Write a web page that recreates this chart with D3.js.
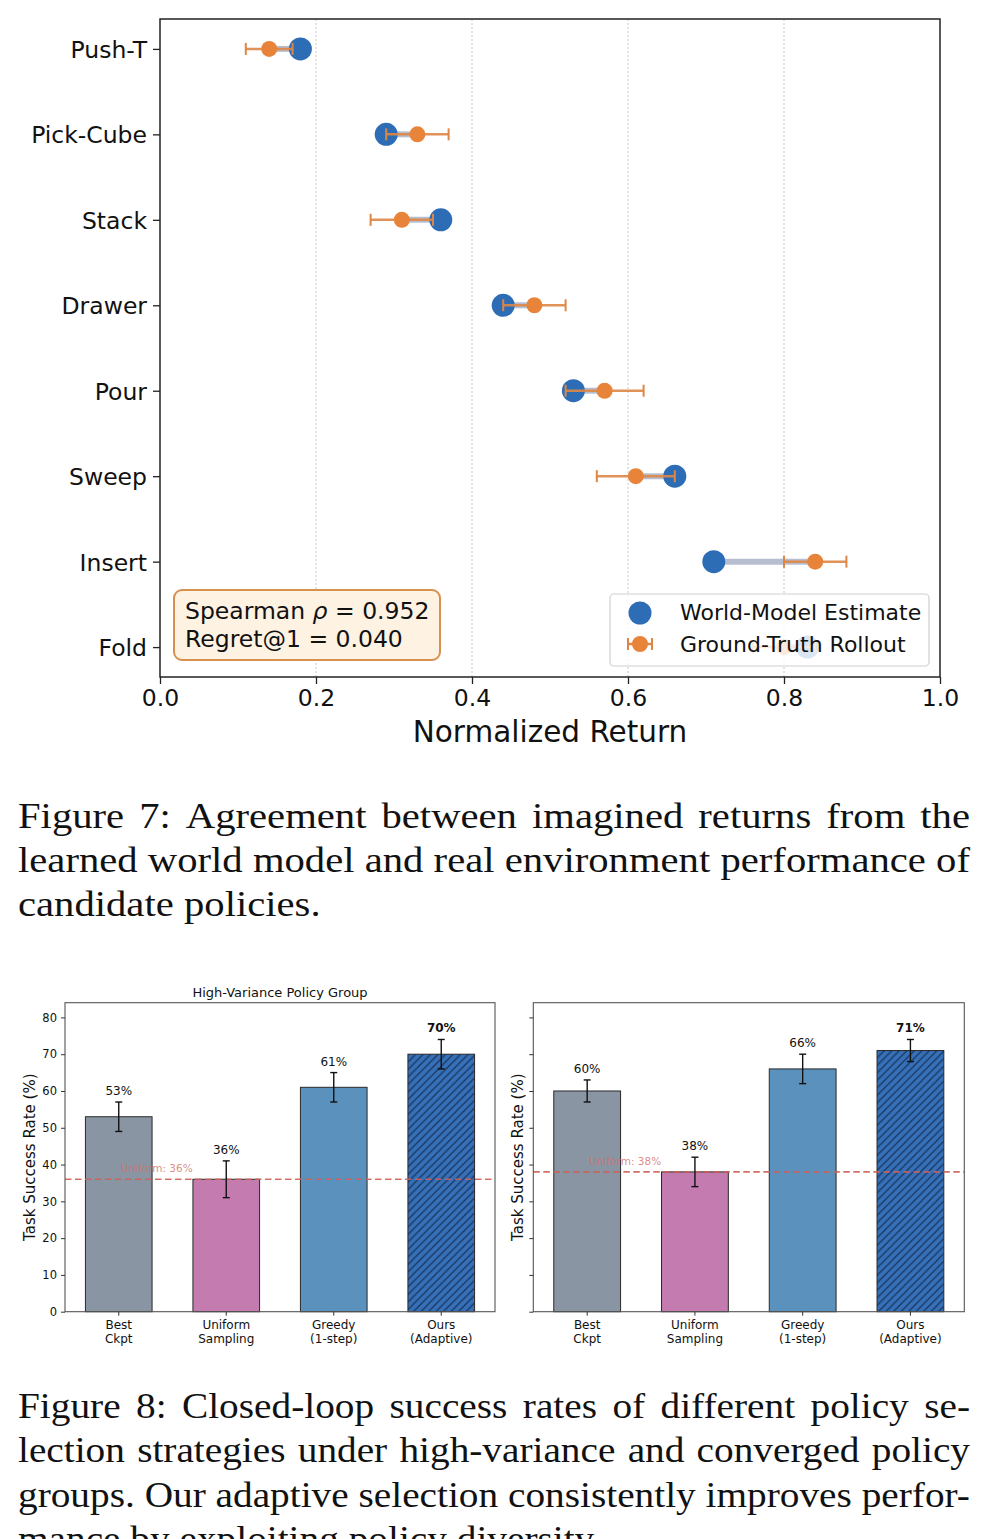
<!DOCTYPE html>
<html lang="en">
<head>
<meta charset="UTF-8">
<title>Figure 7 and 8</title>
<script src="https://cdn.jsdelivr.net/npm/d3@7"></script>
<style>
  body { margin: 0; background: #fff; }
  svg { display: block; }
</style>
</head>
<body>
<div id="chart"></div>
<script>
// ---- Figure 7 data ----
const tasks      = ["Push-T", "Pick-Cube", "Stack", "Drawer", "Pour", "Sweep", "Insert", "Fold"];
const wmEstimate = [0.18, 0.29, 0.36, 0.44, 0.53, 0.66, 0.71, 0.83];
const gtRollout  = [0.14, 0.33, 0.31, 0.48, 0.57, 0.61, 0.84, 0.80];
const gtError    = [0.03, 0.04, 0.04, 0.04, 0.05, 0.05, 0.04, 0.04];
const returnTicks = [0.0, 0.2, 0.4, 0.6, 0.8, 1.0];
const statLines = ["Spearman", "Regret@1 = 0.040"];

// ---- Figure 8 data ----
const strategies   = ["Best Ckpt", "Uniform Sampling", "Greedy (1-step)", "Ours (Adaptive)"];
const strategyRows = [["Best", "Ckpt"], ["Uniform", "Sampling"], ["Greedy", "(1-step)"], ["Ours", "(Adaptive)"]];
const hvRates = [53, 36, 61, 70];
const hvErr   = [4, 5, 4, 4];
const cvRates = [60, 38, 66, 71];
const cvErr   = [3, 4, 4, 3];
const rateTicks = [0, 10, 20, 30, 40, 50, 60, 70, 80];
const barColors = ["#8995a3", "#c47bb0", "#5b91bd", "#3570b8"];

// ---- captions ----
const caption7 = [
  "Figure 7: Agreement between imagined returns from the",
  "learned world model and real environment performance of",
  "candidate policies."
];
const caption8 = [
  "Figure 8: Closed-loop success rates of different policy se-",
  "lection strategies under high-variance and converged policy",
  "groups. Our adaptive selection consistently improves perfor-",
  "mance by exploiting policy diversity."
];

const W = 987, H = 1539;
const sans = "DejaVu Sans, sans-serif";

const svg = d3.select("#chart").append("svg")
    .attr("width", W).attr("height", H)
    .attr("viewBox", `0 0 ${W} ${H}`);

// ================= Figure 7: dumbbell =================
const m7 = { left: 160, right: 940, top: 19, bottom: 677 };
const x = d3.scaleLinear().domain([0, 1]).range([m7.left, m7.right]);
const y = d3.scalePoint().domain(tasks).range([m7.top, m7.bottom]).padding(0.35);

const g7 = svg.append("g");

// grid
g7.append("g").selectAll("line")
  .data(returnTicks.slice(1, -1))
  .join("line")
    .attr("x1", d => x(d)).attr("x2", d => x(d))
    .attr("y1", m7.top).attr("y2", m7.bottom)
    .attr("stroke", "#c8c8c8").attr("stroke-width", 1)
    .attr("stroke-dasharray", "2,2");

const rows = tasks.map((t, i) => ({ t, wm: wmEstimate[i], gt: gtRollout[i], e: gtError[i] }));

// connectors
g7.append("g").selectAll("line")
  .data(rows)
  .join("line")
    .attr("x1", d => x(d.wm)).attr("x2", d => x(d.gt))
    .attr("y1", d => y(d.t)).attr("y2", d => y(d.t))
    .attr("stroke", "#a9b3c7").attr("stroke-width", 6)
    .attr("stroke-opacity", 0.85);

// world-model markers
g7.append("g").selectAll("circle")
  .data(rows)
  .join("circle")
    .attr("cx", d => x(d.wm)).attr("cy", d => y(d.t))
    .attr("r", 11.5).attr("fill", "#2d6db5");

// ground truth with error bars
const gt = g7.append("g").selectAll("g")
  .data(rows)
  .join("g")
    .attr("transform", d => `translate(0,${y(d.t)})`);
gt.append("line")
    .attr("x1", d => x(d.gt - d.e)).attr("x2", d => x(d.gt + d.e))
    .attr("stroke", "#de8645").attr("stroke-width", 2.5).attr("stroke-opacity", 0.9);
gt.selectAll(".cap")
  .data(d => [d.gt - d.e, d.gt + d.e])
  .join("line")
    .attr("class", "cap")
    .attr("x1", d => x(d)).attr("x2", d => x(d))
    .attr("y1", -6).attr("y2", 6)
    .attr("stroke", "#de8645").attr("stroke-width", 2);
gt.append("circle")
    .attr("cx", d => x(d.gt)).attr("r", 8).attr("fill", "#e8833a");

// frame
g7.append("rect")
    .attr("x", m7.left).attr("y", m7.top)
    .attr("width", m7.right - m7.left).attr("height", m7.bottom - m7.top)
    .attr("fill", "none").attr("stroke", "#222").attr("stroke-width", 1.5);

// axes
const yAx = g7.append("g")
    .attr("transform", `translate(${m7.left},0)`)
    .call(d3.axisLeft(y).tickSize(7).tickPadding(6));
const xAx = g7.append("g")
    .attr("transform", `translate(0,${m7.bottom})`)
    .call(d3.axisBottom(x).tickValues(returnTicks).tickFormat(d3.format(".1f")).tickSize(7).tickPadding(5));
[yAx, xAx].forEach(a => {
  a.select(".domain").remove();
  a.selectAll(".tick line").attr("stroke", "#222").attr("stroke-width", 1.3);
  a.selectAll("text").attr("font-family", sans).attr("font-size", 23.5).attr("fill", "#111");
});
yAx.selectAll("text").attr("dy", "0.36em");

g7.append("text")
    .attr("x", (m7.left + m7.right) / 2).attr("y", 742)
    .attr("text-anchor", "middle")
    .attr("font-family", sans).attr("font-size", 29.5).attr("fill", "#111")
    .text("Normalized Return");

// stats box
g7.append("rect")
    .attr("x", 174).attr("y", 590).attr("width", 266).attr("height", 70)
    .attr("rx", 8)
    .attr("fill", "#fef2e2").attr("stroke", "#d6914f").attr("stroke-width", 2);
const st1 = g7.append("text")
    .attr("x", 185).attr("y", 619)
    .attr("font-family", sans).attr("font-size", 23.5).attr("fill", "#111");
st1.append("tspan").text(statLines[0] + " ");
st1.append("tspan").attr("font-style", "italic").text("ρ");
st1.append("tspan").text(" = 0.952");
g7.append("text")
    .attr("x", 185).attr("y", 647)
    .attr("font-family", sans).attr("font-size", 23.5).attr("fill", "#111")
    .text(statLines[1]);

// legend
const lg = g7.append("g");
lg.append("rect")
    .attr("x", 610).attr("y", 594).attr("width", 319).attr("height", 72)
    .attr("rx", 4)
    .attr("fill", "#fff").attr("fill-opacity", 0.82)
    .attr("stroke", "#d0d0d0").attr("stroke-width", 1.2);
lg.append("circle").attr("cx", 640).attr("cy", 613).attr("r", 11.5).attr("fill", "#2d6db5");
lg.append("line").attr("x1", 628).attr("x2", 652).attr("y1", 644).attr("y2", 644)
    .attr("stroke", "#de8645").attr("stroke-width", 2.5);
[628, 652].forEach(cx => lg.append("line")
    .attr("x1", cx).attr("x2", cx).attr("y1", 638).attr("y2", 650)
    .attr("stroke", "#de8645").attr("stroke-width", 2));
lg.append("circle").attr("cx", 640).attr("cy", 644).attr("r", 8).attr("fill", "#e8833a");
lg.selectAll("text.lab")
  .data(["World-Model Estimate", "Ground-Truth Rollout"])
  .join("text")
    .attr("class", "lab")
    .attr("x", 680).attr("y", (d, i) => 620 + i * 32)
    .attr("font-family", sans).attr("font-size", 22).attr("fill", "#111")
    .text(d => d);

// ================= Figure 8: bar panels =================
const defs = svg.append("defs");
const hs = 7.5;
const pat = defs.append("pattern")
    .attr("id", "hatch").attr("patternUnits", "userSpaceOnUse")
    .attr("width", hs).attr("height", hs);
pat.append("rect").attr("width", hs).attr("height", hs).attr("fill", barColors[3]);
pat.append("path")
    .attr("d", `M0,${hs} L${hs},0 M-2,2 L2,-2 M${hs - 2},${hs + 2} L${hs + 2},${hs - 2}`)
    .attr("stroke", "#1a335a").attr("stroke-width", 1.2);

const panelTop = 1002.7, panelBottom = 1311.7;
const yr = d3.scaleLinear().domain([0, 84]).range([panelBottom, panelTop]);

function panel(left, right, rates, errs, title, showLabels, ylabelX) {
  const g = svg.append("g");
  const xb = d3.scaleBand().domain(strategies).range([left, right])
      .paddingInner(0.38).paddingOuter(0.19);
  const data = strategies.map((s, i) => ({ s, v: rates[i], e: errs[i], i }));

  // bars
  g.append("g").selectAll("rect")
    .data(data)
    .join("rect")
      .attr("x", d => xb(d.s)).attr("width", xb.bandwidth())
      .attr("y", d => yr(d.v)).attr("height", d => yr(0) - yr(d.v))
      .attr("fill", d => d.i === 3 ? "url(#hatch)" : barColors[d.i])
      .attr("stroke", "#2a2a2a").attr("stroke-width", 1);

  // uniform reference line
  const ref = rates[1];
  g.append("line")
      .attr("x1", left).attr("x2", right)
      .attr("y1", yr(ref)).attr("y2", yr(ref))
      .attr("stroke", "#cf5f58").attr("stroke-width", 1.6)
      .attr("stroke-dasharray", "6.5,3.5").attr("stroke-opacity", 0.9);
  g.append("text")
      .attr("x", xb(strategies[0]) + xb.bandwidth() / 2 + 2).attr("y", yr(ref) - 7)
      .attr("font-family", sans).attr("font-size", 10.5)
      .attr("fill", "#d2706a").attr("fill-opacity", 0.8)
      .text(`Uniform: ${ref}%`);

  // error bars
  const eb = g.append("g").selectAll("g")
    .data(data)
    .join("g")
      .attr("transform", d => `translate(${xb(d.s) + xb.bandwidth() / 2},0)`)
      .attr("stroke", "#111").attr("stroke-width", 1.4);
  eb.append("line").attr("y1", d => yr(d.v - d.e)).attr("y2", d => yr(d.v + d.e));
  eb.append("line").attr("x1", -3.5).attr("x2", 3.5).attr("y1", d => yr(d.v - d.e)).attr("y2", d => yr(d.v - d.e));
  eb.append("line").attr("x1", -3.5).attr("x2", 3.5).attr("y1", d => yr(d.v + d.e)).attr("y2", d => yr(d.v + d.e));

  // value labels
  g.append("g").selectAll("text")
    .data(data)
    .join("text")
      .attr("x", d => xb(d.s) + xb.bandwidth() / 2)
      .attr("y", d => yr(d.v + d.e) - 7)
      .attr("text-anchor", "middle")
      .attr("font-family", sans).attr("font-size", 12)
      .attr("font-weight", d => d.i === 3 ? "bold" : "normal")
      .attr("fill", "#111")
      .text(d => d.v + "%");

  // frame
  g.append("rect")
      .attr("x", left).attr("y", panelTop)
      .attr("width", right - left).attr("height", panelBottom - panelTop)
      .attr("fill", "none").attr("stroke", "#555").attr("stroke-width", 1.1);

  // axes
  const ay = g.append("g").attr("transform", `translate(${left},0)`)
      .call(d3.axisLeft(yr).tickValues(rateTicks).tickSize(4).tickPadding(4)
        .tickFormat(showLabels ? d3.format("d") : () => ""));
  const ax = g.append("g").attr("transform", `translate(0,${panelBottom})`)
      .call(d3.axisBottom(xb).tickSize(4).tickFormat(() => ""));
  [ay, ax].forEach(a => {
    a.select(".domain").remove();
    a.selectAll(".tick line").attr("stroke", "#333");
  });
  ay.selectAll("text").attr("font-family", sans).attr("font-size", 11.5).attr("fill", "#111");

  g.append("g").selectAll("text")
    .data(data)
    .join("text")
      .attr("x", d => xb(d.s) + xb.bandwidth() / 2)
      .attr("y", panelBottom + 17)
      .attr("text-anchor", "middle")
      .attr("font-family", sans).attr("font-size", 12).attr("fill", "#111")
      .selectAll("tspan")
      .data(d => strategyRows[d.i])
      .join("tspan")
        .attr("x", function () { return this.parentNode.getAttribute("x"); })
        .attr("dy", (d, i) => i === 0 ? 0 : 14)
        .text(d => d);

  g.append("text")
      .attr("transform", `translate(${ylabelX},${(panelTop + panelBottom) / 2}) rotate(-90)`)
      .attr("text-anchor", "middle").attr("dy", "0.35em")
      .attr("font-family", sans).attr("font-size", 15).attr("fill", "#111")
      .text("Task Success Rate (%)");

  if (title) {
    g.append("text")
        .attr("x", (left + right) / 2).attr("y", 997)
        .attr("text-anchor", "middle")
        .attr("font-family", sans).attr("font-size", 13).attr("fill", "#111")
        .text(title);
  }
}

panel(65, 495, hvRates, hvErr, "High-Variance Policy Group", true, 30);
panel(533.3, 964.3, cvRates, cvErr, null, false, 518);

// ================= captions (justified serif) =================
function caption(lines, baselines, x0, x1, size) {
  const serif = "Liberation Serif, Times New Roman, serif";
  const g = svg.append("g").attr("font-family", serif).attr("font-size", size).attr("fill", "#111");
  const target = x1 - x0;
  const measure = s => {
    const t = g.append("text").text(s);
    const w = t.node().getComputedTextLength();
    t.remove();
    return w;
  };
  const spaceW = measure("a a") - measure("aa");
  let sx = 1.2;
  lines.slice(0, -1).forEach(l => { sx = Math.min(sx, target / measure(l)); });
  lines.forEach((line, li) => {
    const words = line.split(" ");
    const widths = words.map(w => measure(w) * sx);
    const last = li === lines.length - 1;
    const gap = last ? spaceW * sx
      : (target - d3.sum(widths)) / (words.length - 1);
    let cx = x0;
    words.forEach((w, wi) => {
      g.append("text")
          .attr("transform", `translate(${cx},${baselines[li]}) scale(${sx},1)`)
          .text(w);
      cx += widths[wi] + gap;
    });
  });
}

caption(caption7, [828, 872, 916], 18, 970, 36);
caption(caption8, [1418, 1462, 1507, 1551], 18, 970, 36);
</script>
</body>
</html>
